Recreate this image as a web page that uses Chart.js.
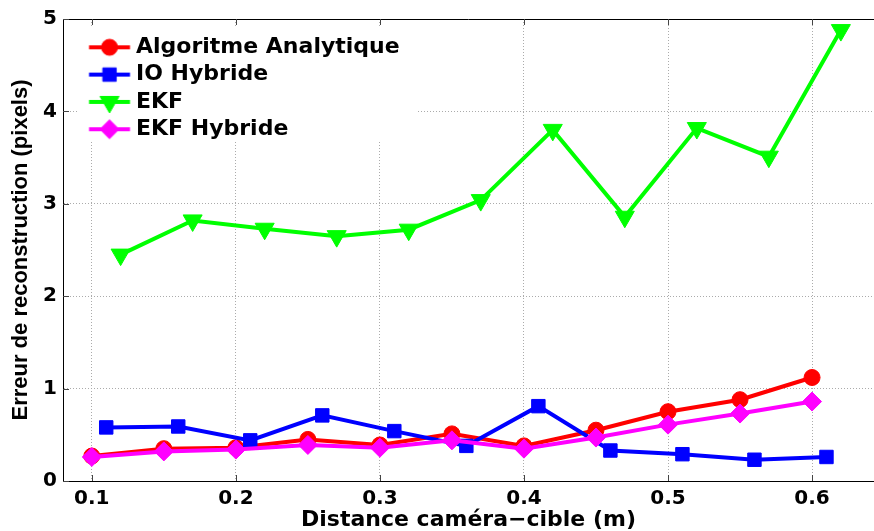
<!DOCTYPE html>
<html><head><meta charset="utf-8">
<script src="https://cdn.jsdelivr.net/npm/chart.js@4"></script>
<style>html,body{margin:0;padding:0;background:#fff;overflow:hidden}#wrap{width:874px;height:531px}</style>
</head><body><div id="wrap"><canvas id="c" width="874" height="531"></canvas></div>
<script>
const seriesNames = ['Algoritme Analytique', 'IO Hybride', 'EKF', 'EKF Hybride'];
const xAnalytique = [0.10, 0.15, 0.20, 0.25, 0.30, 0.35, 0.40, 0.45, 0.50, 0.55, 0.60];
const yAnalytique = [0.27, 0.35, 0.36, 0.45, 0.39, 0.51, 0.38, 0.55, 0.75, 0.88, 1.12];
const xIOHybride = [0.11, 0.16, 0.21, 0.26, 0.31, 0.36, 0.41, 0.46, 0.51, 0.56, 0.61];
const yIOHybride = [0.58, 0.59, 0.44, 0.71, 0.54, 0.38, 0.81, 0.33, 0.29, 0.23, 0.26];
const xEKF = [0.12, 0.17, 0.22, 0.27, 0.32, 0.37, 0.42, 0.47, 0.52, 0.57, 0.62];
const yEKF = [2.45, 2.82, 2.73, 2.65, 2.72, 3.04, 3.80, 2.86, 3.82, 3.51, 4.88];
const xEKFHybride = [0.10, 0.15, 0.20, 0.25, 0.30, 0.35, 0.40, 0.45, 0.50, 0.55, 0.60];
const yEKFHybride = [0.26, 0.32, 0.34, 0.39, 0.36, 0.44, 0.35, 0.47, 0.61, 0.73, 0.86];
const xTickValues = [0.1, 0.2, 0.3, 0.4, 0.5, 0.6];
const xTickLabels = ['0.1', '0.2', '0.3', '0.4', '0.5', '0.6'];
const yTickValues = [0, 1, 2, 3, 4, 5];
const yTickLabels = ['0', '1', '2', '3', '4', '5'];
const xTitle = 'Distance caméra−cible (m)';
const yTitle = 'Erreur de reconstruction (pixels)';

const colors = ['#ff0000', '#0000ff', '#00ff00', '#ff00ff'];
const styles = ['circle', 'rect', 'triangle', 'rectRot'];
const radii = [8, 9.5, 11, 9.5];

function pts(xs, ys) { return xs.map((x, i) => ({x: x, y: ys[i]})); }

function makeIcon(color, style, r) {
  const c = document.createElement('canvas');
  c.width = 80; c.height = 26;
  const g = c.getContext('2d');
  const cy = 13, x0 = 32.35, x1 = 73.35, cx = 52.85;
  g.strokeStyle = color; g.lineWidth = 4;
  g.beginPath(); g.moveTo(x0, cy); g.lineTo(x1, cy); g.stroke();
  g.fillStyle = color; g.lineWidth = 1;
  g.beginPath();
  if (style === 'circle') g.arc(cx, cy, r, 0, 2 * Math.PI);
  else if (style === 'rect') { const s = r * Math.SQRT1_2; g.rect(cx - s, cy - s, 2 * s, 2 * s); }
  else if (style === 'triangle') { g.moveTo(cx, cy + r); g.lineTo(cx - r * 0.866, cy - r / 2); g.lineTo(cx + r * 0.866, cy - r / 2); g.closePath(); }
  else { g.moveTo(cx - r, cy); g.lineTo(cx, cy - r); g.lineTo(cx + r, cy); g.lineTo(cx, cy + r); g.closePath(); }
  g.fill(); g.stroke();
  return c;
}
const icons = colors.map((c, i) => makeIcon(c, styles[i], radii[i]));

const xs = [xAnalytique, xIOHybride, xEKF, xEKFHybride];
const ys = [yAnalytique, yIOHybride, yEKF, yEKFHybride];
const orders = [3, 2, 1, 0];
const datasets = seriesNames.map((name, i) => ({
  label: name,
  data: pts(xs[i], ys[i]),
  borderColor: colors[i],
  backgroundColor: colors[i],
  pointBackgroundColor: colors[i],
  pointBorderColor: colors[i],
  pointStyle: styles[i],
  pointRotation: styles[i] === 'triangle' ? 180 : 0,
  pointRadius: radii[i],
  pointHoverRadius: radii[i],
  pointBorderWidth: 1,
  borderWidth: 4,
  tension: 0,
  clip: false,
  order: orders[i]
}));

const legendBg = {
  id: 'legendBg',
  beforeDatasetsDraw(chart) {
    const a = chart.chartArea, ctx = chart.ctx;
    ctx.save();
    ctx.fillStyle = '#ffffff';
    ctx.fillRect(a.left + 15, a.top + 7, 338, 116);
    ctx.restore();
    chart.legend.draw();
  }
};
const frame = {
  id: 'frame',
  afterDraw(chart) {
    const a = chart.chartArea, ctx = chart.ctx;
    const sx = chart.scales.x, sy = chart.scales.y;
    ctx.save();
    ctx.strokeStyle = '#000'; ctx.lineWidth = 1;
    ctx.beginPath(); ctx.moveTo(a.left, Math.round(a.top) + 0.5); ctx.lineTo(a.right, Math.round(a.top) + 0.5); ctx.stroke();
    ctx.strokeStyle = '#444';
    ctx.beginPath();
    xTickValues.forEach(v => {
      const px = Math.round(sx.getPixelForValue(v)) + 0.5;
      ctx.moveTo(px, a.top); ctx.lineTo(px, a.top + 6);
      ctx.moveTo(px, a.bottom); ctx.lineTo(px, a.bottom - 6);
    });
    yTickValues.forEach(v => {
      const py = Math.round(sy.getPixelForValue(v)) + 0.5;
      ctx.moveTo(a.left, py); ctx.lineTo(a.left + 6, py);
    });
    ctx.stroke();
    ctx.restore();
  }
};

const tickFont = {family: 'DejaVu Sans', weight: 'bold', size: 20};
new Chart(document.getElementById('c'), {
  type: 'line',
  data: {datasets: datasets},
  options: {
    responsive: false, animation: false, devicePixelRatio: 1,
    layout: {autoPadding: false, padding: {top: 19, right: 0, bottom: 0, left: 0}},
    plugins: {
      tooltip: {enabled: false},
      legend: {
        position: 'chartArea', align: 'start',
        title: {display: true, text: ' ', padding: {top: 21, bottom: 0}, font: {size: 10, lineHeight: 1}},
        labels: {
          usePointStyle: true, pointStyleWidth: 56.7, padding: 5.3, color: '#000',
          font: {family: 'DejaVu Sans', weight: 'bold', size: 22},
          sort: (a, b) => a.datasetIndex - b.datasetIndex,
          generateLabels: (chart) => Chart.defaults.plugins.legend.labels.generateLabels(chart).map(it => {
            it.pointStyle = icons[it.datasetIndex]; it.rotation = 0; return it;
          })
        }
      }
    },
    scales: {
      x: {
        type: 'linear', min: 0.08, max: 0.643,
        afterFit: s => { s.height = 50; s.paddingLeft = 0; s.paddingRight = 0; },
        afterBuildTicks: s => { s.ticks = xTickValues.map(v => ({value: v})); },
        ticks: {padding: 6, color: '#000', font: tickFont, autoSkip: false, maxRotation: 0, callback: (v, i) => xTickLabels[i]},
        grid: {color: '#ababab', lineWidth: 1, drawTicks: false},
        border: {display: true, color: '#000', width: 1, dash: [1, 2]},
        title: {display: true, text: xTitle, color: '#000', font: {family: 'DejaVu Sans', weight: 'bold', size: 22, lineHeight: 1}, padding: {top: 0, bottom: 0}}
      },
      y: {
        type: 'linear', min: 0, max: 5,
        afterFit: s => { s.width = 63; s.paddingTop = 0; s.paddingBottom = 0; },
        afterBuildTicks: s => { s.ticks = yTickValues.map(v => ({value: v})); },
        ticks: {padding: 6, color: '#000', font: tickFont, callback: (v, i) => yTickLabels[i]},
        grid: {color: '#ababab', lineWidth: 1, drawTicks: false},
        border: {display: true, color: '#000', width: 1, dash: [1, 2]},
        title: {display: true, text: yTitle, color: '#000', font: {family: 'Liberation Sans', weight: 'bold', size: 22, lineHeight: 1}, padding: {top: 10, bottom: 0}}
      }
    }
  },
  plugins: [legendBg, frame]
});
</script></body></html>
